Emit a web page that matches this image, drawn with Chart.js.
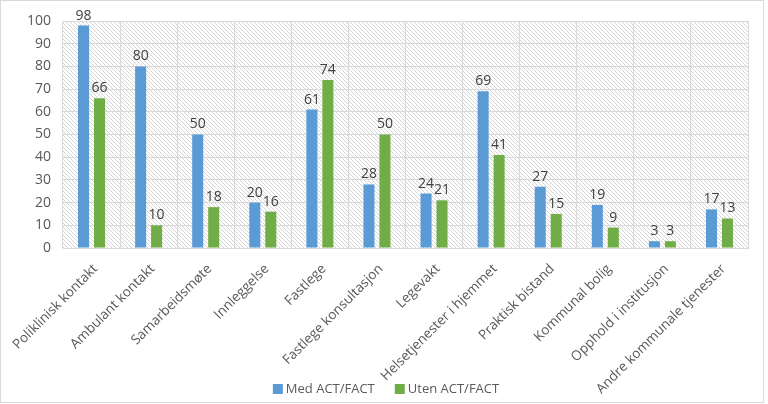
<!DOCTYPE html>
<html><head><meta charset="utf-8">
<script src="https://cdn.jsdelivr.net/npm/chart.js@4/dist/chart.umd.min.js"></script>
<style>html,body{margin:0;padding:0;background:#fff}#wrap{width:768px;height:404px}</style>
</head><body><div id="wrap"><canvas id="c"></canvas></div>
<script>
const categories = ["Poliklinisk kontakt","Ambulant kontakt","Samarbeidsmøte","Innleggelse","Fastlege","Fastlege konsultasjon","Legevakt","Helsetjenester i hjemmet","Praktisk bistand","Kommunal bolig","Opphold i institusjon","Andre kommunale tjenester"];
const medACT = [98,80,50,20,61,28,24,69,27,19,3,17];
const utenACT = [66,10,18,16,74,50,21,41,15,9,3,13];
const seriesNames = ["Med ACT/FACT","Uten ACT/FACT"];
const seriesColors = ["#5B9BD5","#70AD47"];
const yTicks = [0,10,20,30,40,50,60,70,80,90,100];

const FONT = "'Open Sans', sans-serif";
const TXT = '#595959';

function makePattern(ctx){
  const t = document.createElement('canvas'); t.width = 4; t.height = 4;
  const g = t.getContext('2d');
  g.fillStyle = '#fff'; g.fillRect(0,0,4,4);
  g.strokeStyle = '#d4d4d4'; g.lineWidth = 1;
  g.beginPath(); g.moveTo(-1,-1); g.lineTo(5,5); g.moveTo(-1,3); g.lineTo(1,5); g.moveTo(3,-1); g.lineTo(5,1); g.stroke();
  return ctx.createPattern(t,'repeat');
}

const bgPlugin = {
  id:'bg',
  beforeDraw(chart){
    const {ctx, chartArea:a} = chart;
    ctx.save();
    ctx.fillStyle = '#fff'; ctx.fillRect(0,0,chart.width,chart.height);
    ctx.fillStyle = makePattern(ctx);
    ctx.fillRect(a.left,a.top,a.right-a.left,a.bottom-a.top);
    ctx.strokeStyle = '#d9d9d9'; ctx.lineWidth = 1;
    ctx.strokeRect(0.5,0.5,763,402);
    ctx.restore();
  },
  afterDatasetsDraw(chart){
    const ctx = chart.ctx;
    ctx.save();
    ctx.font = "14px " + FONT; ctx.fillStyle = '#404040';
    ctx.textAlign = 'center'; ctx.textBaseline = 'bottom';
    chart.data.datasets.forEach((ds,i)=>{
      chart.getDatasetMeta(i).data.forEach((bar,j)=>{
        ctx.fillText(String(ds.data[j]), bar.x, bar.y - 3);
      });
    });
    ctx.restore();
  },
  afterDraw(chart){
    const ctx = chart.ctx;
    ctx.save();
    ctx.font = "13px " + FONT;
    ctx.textBaseline = 'middle'; ctx.textAlign = 'left';
    const box = 10, gap = 3, spacing = 20;
    const items = chart.data.datasets.map(d => ({label:d.label, color:d.backgroundColor, w: ctx.measureText(d.label).width}));
    const total = items.reduce((s,it)=>s+box+gap+it.w,0) + spacing*(items.length-1);
    let x = 386 - total/2;
    const cy = 389;
    items.forEach(it=>{
      ctx.fillStyle = it.color; ctx.fillRect(x, cy-5, box, box);
      ctx.fillStyle = TXT; ctx.fillText(it.label, x+box+gap, cy);
      x += box+gap+it.w+spacing;
    });
    ctx.restore();
  }
};

new Chart(document.getElementById('c'), {
  type:'bar',
  data:{
    labels: categories,
    datasets:[
      {label:seriesNames[0], data:medACT, backgroundColor:seriesColors[0], categoryPercentage:0.56, barPercentage:0.69},
      {label:seriesNames[1], data:utenACT, backgroundColor:seriesColors[1], categoryPercentage:0.56, barPercentage:0.69}
    ]
  },
  options:{
    responsive:true, maintainAspectRatio:false, animation:false,
    layout:{padding:{top:21,right:20,bottom:0,left:0}},
    plugins:{ legend:{display:false}, tooltip:{enabled:false} },
    scales:{
      x:{
        grid:{color:'#d9d9d9', offset:true, drawTicks:false},
        border:{color:'#d9d9d9'},
        ticks:{maxRotation:45, minRotation:45, autoSkip:false, color:TXT, font:{family:FONT,size:13.5}, padding:13, labelOffset:4},
        afterFit(s){ s.height = 156; s.paddingLeft = 0; s.paddingRight = 0; }
      },
      y:{
        min:0, max:100,
        grid:{color:'#d9d9d9', drawTicks:false},
        border:{display:false},
        afterBuildTicks(s){ s.ticks = yTicks.map(v=>({value:v})); },
        ticks:{color:TXT, font:{family:FONT,size:14}, padding:12},
        afterFit(s){ s.width = 63; }
      }
    }
  },
  plugins:[bgPlugin]
});
</script></body></html>
